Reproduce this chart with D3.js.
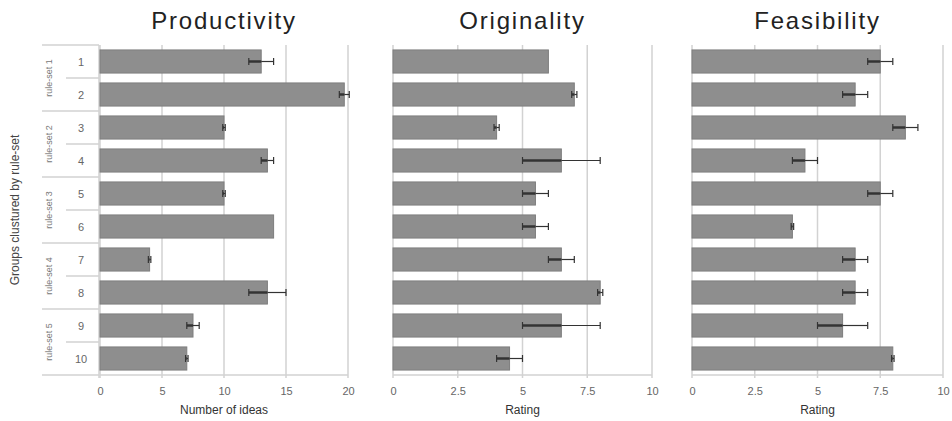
<!DOCTYPE html>
<html><head><meta charset="utf-8">
<script src="https://cdn.jsdelivr.net/npm/d3@7"></script>
<style>body{margin:0;background:#fff}svg{display:block}</style>
</head><body><svg id="c" width="952" height="421"></svg>
<script>
const groups = ["1","2","3","4","5","6","7","8","9","10"];
const ruleSets = ["rule-set 1","rule-set 2","rule-set 3","rule-set 4","rule-set 5"];
const productivity = [13, 19.7, 10, 13.5, 10, 14, 4, 13.5, 7.5, 7];
const productivityErr = [1, 0.4, 0.1, 0.5, 0.1, 0, 0.1, 1.5, 0.5, 0.1];
const originality = [6, 7, 4, 6.5, 5.5, 5.5, 6.5, 8, 6.5, 4.5];
const originalityErr = [0, 0.1, 0.1, 1.5, 0.5, 0.5, 0.5, 0.1, 1.5, 0.5];
const feasibility = [7.5, 6.5, 8.5, 4.5, 7.5, 4, 6.5, 6.5, 6, 8];
const feasibilityErr = [0.5, 0.5, 0.5, 0.5, 0.5, 0.05, 0.5, 0.5, 1, 0.05];
const prodTicks = [0, 5, 10, 15, 20];
const ratingTicks = [0, 2.5, 5, 7.5, 10];

const panels = [
  {title:"Productivity", vals:productivity, err:productivityErr, max:20, ticks:prodTicks, x0:100, x1:348, label:"Number of ideas"},
  {title:"Originality", vals:originality, err:originalityErr, max:10, ticks:ratingTicks, x0:393, x1:652, label:"Rating"},
  {title:"Feasibility", vals:feasibility, err:feasibilityErr, max:10, ticks:ratingTicks, x0:692, x1:943, label:"Rating"}
];

const svg = d3.select("#c");
const plotTop = 45, plotBottom = 375;
const y = d3.scaleBand().domain(groups).range([plotTop, plotBottom]).paddingInner(0.3).paddingOuter(0.15);
const font = "Liberation Sans, Arial, sans-serif";
const gridCol = "#d2d2d2";

// left category axis structure
const la = svg.append("g");
la.append("line").attr("x1",99).attr("x2",99).attr("y1",plotTop).attr("y2",plotBottom+3).attr("stroke",gridCol).attr("stroke-width",1.5);
for (let g = 0; g <= ruleSets.length; g++) {
  const yy = g < ruleSets.length ? y(groups[g*2]) - y.step()*y.paddingInner()/2 : plotBottom;
  la.append("line").attr("x1",42).attr("x2",99).attr("y1",yy).attr("y2",yy).attr("stroke",gridCol).attr("stroke-width",1.5);
}
ruleSets.forEach((r,i)=>{
  const ym = y(groups[i*2+1]) - y.step()*y.paddingInner()/2;
  la.append("line").attr("x1",66).attr("x2",99).attr("y1",ym).attr("y2",ym).attr("stroke",gridCol).attr("stroke-width",1.5);
  const yc = (y(groups[i*2]) + y(groups[i*2+1]) + y.bandwidth())/2;
  la.append("text").attr("transform",`translate(52,${yc}) rotate(-90)`).attr("text-anchor","middle")
    .attr("font-family",font).attr("font-size",9).attr("fill","#777").text(r);
});
groups.forEach(g=>{
  la.append("text").attr("x",81).attr("y",y(g)+y.bandwidth()/2+4).attr("text-anchor","middle")
    .attr("font-family",font).attr("font-size",11).attr("fill","#666").text(g);
});
svg.append("text").attr("transform",`translate(19,210) rotate(-90)`).attr("text-anchor","middle")
  .attr("font-family",font).attr("font-size",12).attr("fill","#444").text("Groups clustured by rule-set");

panels.forEach(p=>{
  const x = d3.scaleLinear().domain([0,p.max]).range([p.x0,p.x1]);
  const g = svg.append("g");
  g.selectAll("line.grid").data(p.ticks).join("line").attr("class","grid")
    .attr("x1",d=>x(d)).attr("x2",d=>x(d)).attr("y1",plotTop).attr("y2",plotBottom+3)
    .attr("stroke",gridCol).attr("stroke-width",1.5);
  g.append("line").attr("x1",p.x0).attr("x2",p.x1).attr("y1",plotBottom).attr("y2",plotBottom).attr("stroke",gridCol).attr("stroke-width",1.5);
  const ax = g.append("g").attr("transform",`translate(0,${plotBottom+3})`)
    .call(d3.axisBottom(x).tickValues(p.ticks).tickSize(0).tickPadding(9).tickFormat(d3.format("")));
  ax.select(".domain").remove();
  ax.selectAll("text").attr("font-family",font).attr("font-size",11).attr("fill","#666");
  g.selectAll("rect.bar").data(p.vals).join("rect").attr("class","bar")
    .attr("x",x(0)).attr("y",(d,i)=>y(groups[i])).attr("width",d=>x(d)-x(0)).attr("height",y.bandwidth())
    .attr("fill","#8e8e8e").attr("stroke","#7e7e7e").attr("stroke-width",1);
  p.vals.forEach((v,i)=>{
    const e = p.err[i]; if (!e) return;
    const yc = y(groups[i]) + y.bandwidth()/2;
    g.append("line").attr("x1",x(v-e)).attr("x2",x(v)).attr("y1",yc).attr("y2",yc).attr("stroke","#333").attr("stroke-width",2.5);
    g.append("line").attr("x1",x(v)).attr("x2",x(v+e)).attr("y1",yc).attr("y2",yc).attr("stroke","#333").attr("stroke-width",1.2);
    [v-e, v+e].forEach(c=>{
      g.append("line").attr("x1",x(c)).attr("x2",x(c)).attr("y1",yc-3.5).attr("y2",yc+3.5).attr("stroke","#333").attr("stroke-width",1.2);
    });
  });
  g.append("text").attr("x",(p.x0+p.x1)/2).attr("y",29).attr("text-anchor","middle")
    .attr("font-family",font).attr("font-size",24).attr("letter-spacing",1.8).attr("fill","#222").text(p.title);
  g.append("text").attr("x",(p.x0+p.x1)/2).attr("y",414).attr("text-anchor","middle")
    .attr("font-family",font).attr("font-size",12).attr("fill","#333").text(p.label);
});
</script></body></html>
